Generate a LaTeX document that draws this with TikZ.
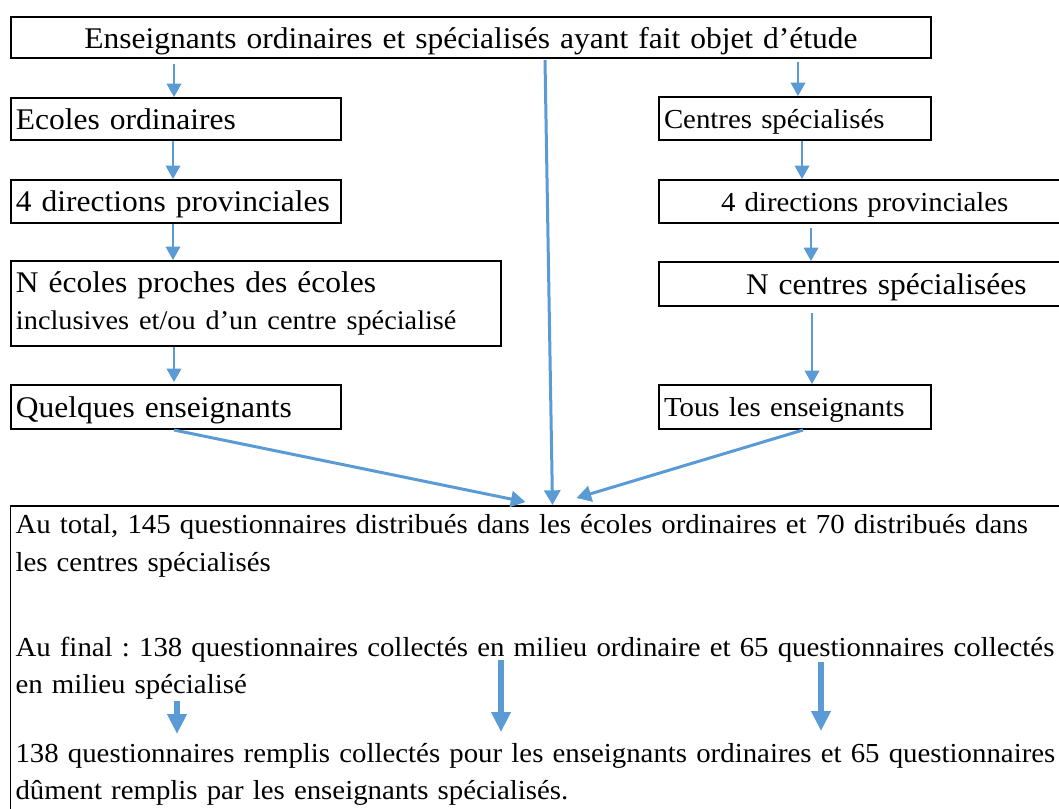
\documentclass[tikz,border=0pt]{standalone}
\usepackage{fontspec}
\setmainfont{Liberation Serif}[FakeStretch=1.05]
\usetikzlibrary{arrows.meta,positioning,calc}
\definecolor{flowblue}{HTML}{5B9BD5}
\frenchspacing

\begin{document}
\begin{tikzpicture}[
    x=0.75pt, y=-0.75pt,
    box/.style={rectangle, draw, line width=1.5pt, anchor=north west, inner xsep=3.75pt, inner ysep=0pt, align=left, font=\fontsize{22.5}{28.1}\selectfont},
    single/.style={box, text depth=0pt},
    small/.style={font=\fontsize{20.6}{28.1}\selectfont},
    arrow/.style={-{Triangle[width=11pt,length=10pt]}, flowblue, line width=1pt},
    bigarrow/.style={-{Triangle[width=12pt,length=11pt]}, flowblue, line width=2.25pt},
    fatarrow/.style={-{Triangle[width=14pt,length=15pt]}, flowblue, line width=4.5pt}
]

\useasboundingbox (0,0) rectangle (1059,809);
\clip (0,0) rectangle (1059,809);

\node[single, text width=682.5pt, align=center, minimum height=30.75pt] (top) at (10,16) {Enseignants ordinaires et spécialisés ayant fait objet d’étude};
\node[single, text width=240pt, minimum height=31.5pt] (ecoles) at (10,97) {Ecoles ordinaires};
\node[single, small, text width=196.5pt, minimum height=32.25pt] (centres) at (658,96) {Centres spécialisés};
\node[single, text width=240pt, minimum height=32.25pt] (dirL) at (10,179) {4 directions provinciales};
\node[single, small, text width=300pt, minimum height=32.25pt] (dirR) at (658,179) {\hspace*{42.75pt}4 directions provinciales};
\node[box, text width=360pt, minimum height=63.75pt] (necoles) at (10,260) {N écoles proches des écoles\\{\fontsize{20.2}{27}\selectfont inclusives et/ou d’un centre spécialisé}};
\node[single, text width=300pt, minimum height=33pt] (ncentres) at (658,261) {\hspace*{61.5pt}N centres spécialisées};
\node[single, text width=240pt, minimum height=33pt] (quelques) at (10,384) {Quelques enseignants};
\node[single, small, text width=196.5pt, minimum height=33pt] (tous) at (658,384) {Tous les enseignants};
\node[box, small, line width=0.75pt, text width=810pt, inner ysep=6pt] (total) at (10,506) {Au total, 145 questionnaires distribués dans les écoles ordinaires et 70 distribués dans\\les centres spécialisés\\[35.6pt]Au final : 138 questionnaires collectés en milieu ordinaire et 65 questionnaires collectés\\en milieu spécialisé\\[23.6pt]138 questionnaires remplis collectés pour les enseignants ordinaires et 65 questionnaires\\dûment remplis par les enseignants spécialisés.};
\draw[line width=2pt] (total.north west) -- (total.north east);

% left and right columns
\draw[arrow] ($(top.south -| ecoles.north)+(-2,5)$) -- ($(ecoles.north)+(-2,0)$);
\draw[arrow] ($(top.south -| centres.north)+(3,3)$) -- ($(centres.north)+(3,0)$);
\draw[arrow] ($(ecoles.south)+(-3,0)$) -- ($(dirL.north)+(-3,0)$);
\draw[arrow] ($(centres.south)+(7,0)$) -- ($(dirR.north -| centres.south)+(7,0)$);
\draw[arrow] ($(dirL.south)+(-3,0)$) -- ($(necoles.north -| dirL.south)+(-3,0)$);
\draw[arrow] ($(dirR.south)+(-53,4)$) -- ($(ncentres.north)+(-53,0)$);
\draw[arrow] ($(necoles.south -| quelques.north)+(-2,0)$) -- ($(quelques.north)+(-2,-2)$);
\draw[arrow] ($(ncentres.south)+(-52,6)$) -- ($(tous.north -| ncentres.south)+(-52,0)$);

% into the total box
\draw[bigarrow] ($(top.south)+(74,1)$) -- ($(total.north)+(-3,-1)$);
\draw[bigarrow] ($(quelques.south)+(-2,0)$) -- ($(total.north)+(-30,-4)$);
\draw[bigarrow] ($(tous.south)+(8,0)$) -- ($(total.north)+(21,-8)$);

% inside the total box
\coordinate (from1) at ($(total.north west)+(167,195)$);
\coordinate (to1) at ($(total.north west)+(167,228)$);
\coordinate (from2) at ($(total.north west)+(491,154)$);
\coordinate (to2) at ($(total.north west)+(491,226)$);
\coordinate (from3) at ($(total.north west)+(811,156)$);
\coordinate (to3) at ($(total.north west)+(811,225)$);
\draw[fatarrow] (from1) -- (to1);
\draw[fatarrow] (from2) -- (to2);
\draw[fatarrow] (from3) -- (to3);

\end{tikzpicture}
\end{document}
